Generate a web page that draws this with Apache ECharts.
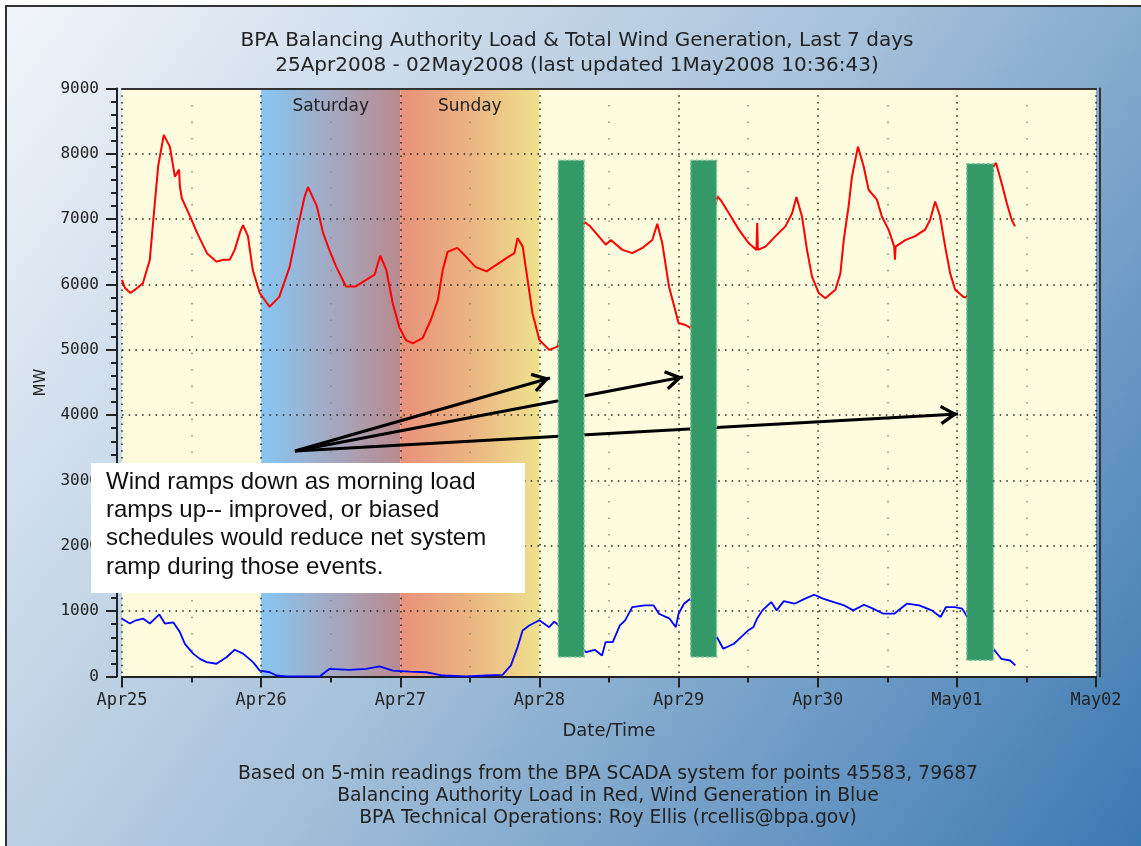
<!DOCTYPE html>
<html>
<head>
<meta charset="utf-8">
<script src="https://cdn.jsdelivr.net/npm/echarts@6/dist/echarts.min.js"></script>
<style>
  html, body { margin: 0; padding: 0; background: #fff; }
  #chart { width: 1141px; height: 846px; }
</style>
</head>
<body>
<div id="chart"></div>
<script>
// x = days since 25Apr2008 00:00, y = MW
const dayLabels = ['Apr25', 'Apr26', 'Apr27', 'Apr28', 'Apr29', 'Apr30', 'May01', 'May02'];

// balancing authority load (red)
const loadMW = [
  [0.00, 6070], [0.02, 5950], [0.06, 5870], [0.10, 5930], [0.15, 6020], [0.20, 6380],
  [0.225, 6990], [0.26, 7810], [0.30, 8290], [0.344, 8110], [0.38, 7650], [0.41, 7760],
  [0.416, 7500], [0.43, 7320], [0.49, 7040], [0.54, 6790], [0.61, 6480], [0.68, 6350],
  [0.73, 6380], [0.775, 6380], [0.81, 6530], [0.85, 6810], [0.87, 6910], [0.905, 6740],
  [0.94, 6220], [0.99, 5870], [1.06, 5660], [1.13, 5810], [1.205, 6270], [1.265, 6890],
  [1.313, 7350], [1.337, 7490], [1.40, 7200], [1.445, 6790], [1.49, 6530], [1.54, 6270],
  [1.61, 5970], [1.68, 5970], [1.755, 6070], [1.815, 6150], [1.856, 6440], [1.90, 6220],
  [1.946, 5710], [1.994, 5340], [2.04, 5150], [2.09, 5100], [2.16, 5180], [2.22, 5460],
  [2.27, 5760], [2.305, 6220], [2.34, 6500], [2.41, 6560], [2.47, 6430], [2.54, 6270],
  [2.62, 6200], [2.69, 6300], [2.76, 6400], [2.82, 6480], [2.843, 6710], [2.88, 6580],
  [2.915, 6070], [2.95, 5560], [3.00, 5150], [3.07, 5000], [3.13, 5050],
  [3.321, 6960], [3.36, 6900], [3.405, 6790], [3.477, 6610], [3.513, 6680], [3.596, 6530],
  [3.668, 6480], [3.74, 6560], [3.811, 6680], [3.847, 6930], [3.883, 6630], [3.931, 5970],
  [4.00, 5410], [4.05, 5380], [4.09, 5330],
  [4.278, 7350], [4.30, 7300], [4.362, 7090], [4.433, 6840], [4.505, 6630], [4.56, 6530],
  [4.565, 6940], [4.57, 6530], [4.625, 6580], [4.697, 6740], [4.768, 6890], [4.816, 7090],
  [4.847, 7340], [4.887, 7040], [4.923, 6530], [4.959, 6120], [5.007, 5870], [5.055, 5790],
  [5.127, 5920], [5.163, 6170], [5.187, 6680], [5.222, 7200], [5.246, 7650], [5.289, 8110],
  [5.33, 7810], [5.366, 7450], [5.425, 7300], [5.461, 7040], [5.509, 6840], [5.55, 6580],
  [5.555, 6380], [5.56, 6580], [5.629, 6680], [5.70, 6740], [5.772, 6840], [5.808, 6990],
  [5.844, 7270], [5.88, 7040], [5.916, 6580], [5.952, 6170], [5.988, 5920], [6.048, 5810],
  [6.07, 5800],
  [6.263, 7810], [6.282, 7860], [6.322, 7550], [6.358, 7250], [6.394, 6990], [6.418, 6890]
];

// total wind generation (blue)
const windMW = [
  [0.00, 885], [0.057, 810], [0.10, 860], [0.153, 885], [0.20, 810], [0.268, 950],
  [0.308, 810], [0.368, 830], [0.416, 680], [0.452, 500], [0.511, 350], [0.56, 270],
  [0.608, 220], [0.679, 195], [0.751, 295], [0.81, 410], [0.87, 350], [0.942, 220],
  [0.99, 90], [1.062, 65], [1.11, 15], [1.18, 0], [1.42, 0], [1.492, 118], [1.636, 100],
  [1.755, 118], [1.851, 155], [1.946, 90], [2.066, 75], [2.186, 65], [2.305, 15],
  [2.473, 0], [2.616, 15], [2.735, 25], [2.795, 170], [2.843, 450], [2.879, 705],
  [2.927, 780], [2.999, 860], [3.07, 755], [3.106, 840], [3.13, 800],
  [3.335, 373], [3.398, 409], [3.45, 322], [3.475, 527], [3.527, 527], [3.578, 782],
  [3.616, 859], [3.667, 1063], [3.757, 1088], [3.821, 1088], [3.859, 961], [3.936, 885],
  [3.98, 756], [4.00, 961], [4.039, 1114], [4.085, 1191],
  [4.282, 578], [4.321, 424], [4.398, 501], [4.449, 603], [4.50, 705], [4.538, 756],
  [4.564, 885], [4.602, 1012], [4.666, 1139], [4.705, 1012], [4.756, 1154], [4.833, 1114],
  [4.91, 1191], [4.974, 1252], [5.038, 1191], [5.115, 1139], [5.191, 1088], [5.255, 1012],
  [5.333, 1099], [5.397, 1038], [5.473, 961], [5.55, 961], [5.64, 1114], [5.73, 1088],
  [5.819, 1012], [5.883, 910], [5.922, 1063], [5.986, 1063], [6.038, 1038], [6.069, 935],
  [6.268, 409], [6.319, 271], [6.383, 245], [6.421, 169]
];

// weekend shading: [label, fromDay, toDay]
const weekendDays = [['Saturday', 1, 2], ['Sunday', 2, 3]];
// green "ramp event" bars: [fromDay, toDay, lowMW, highMW]
const rampEvents = [[3.135, 3.321, 300, 7900], [4.087, 4.273, 300, 7900], [6.071, 6.263, 250, 7850]];
// annotation arrows, one shared tail
const arrowFrom = [1.243, 3452];
const arrowTo = [[3.076, 4569], [4.032, 4584], [6.009, 4018]];

const titleText = 'BPA Balancing Authority Load & Total Wind Generation, Last 7 days\n25Apr2008 - 02May2008 (last updated 1May2008 10:36:43)';
const footerText = 'Based on 5-min readings from the BPA SCADA system for points 45583, 79687\nBalancing Authority Load in Red, Wind Generation in Blue\nBPA Technical Operations: Roy Ellis (rcellis@bpa.gov)';
const note = 'Wind ramps down as morning load\nramps up-- improved, or biased\nschedules would reduce net system\nramp during those events.';

const weekendColors = [
  ['#86c6f2', '#a4a9c2', '#b98a8e'],
  ['#e8917a', '#ebb482', '#efe18d']
];

const chart = echarts.init(document.getElementById('chart'));

const axisCol = '#222';
const mono = 'DejaVu Sans Mono';
const sans = 'DejaVu Sans';

const option = {
  animation: false,
  backgroundColor: {
    type: 'linear', x: 0, y: 0, x2: 1, y2: 1,
    colorStops: [
      { offset: 0, color: '#f3f6fb' },
      { offset: 0.5, color: '#a6c1da' },
      { offset: 1, color: '#3b79b3' }
    ]
  },
  grid: {
    left: 122, top: 88.5, width: 974, height: 588,
    show: true, backgroundColor: '#fefcde', borderWidth: 0,
    containLabel: false, outerBoundsMode: 'none'
  },
  xAxis: [
    {
      type: 'value', min: 0, max: 7, interval: 1, position: 'bottom', z: 1.5,
      name: 'Date/Time', nameLocation: 'middle', nameGap: 46,
      nameTextStyle: { fontFamily: sans, fontSize: 18, color: '#222' },
      axisLine: { show: true, onZero: false, lineStyle: { color: axisCol, width: 2 } },
      axisTick: { show: true, length: 11, lineStyle: { color: axisCol, width: 2 } },
      minorTick: { show: true, splitNumber: 2, length: 6, lineStyle: { color: axisCol, width: 2 } },
      axisLabel: {
        formatter: v => dayLabels[Math.round(v)],
        fontFamily: mono, fontSize: 17, color: '#222', margin: 16
      },
      splitLine: { show: true, lineStyle: { color: '#222', width: 1.5, type: [1.5, 5.2] } },
      minorSplitLine: { show: true, lineStyle: { color: '#8a8a8a', width: 1.5, type: [1.5, 15] } }
    },
    {
      type: 'value', min: 0, max: 7, position: 'top', z: 1.5,
      axisLine: { show: true, onZero: false, lineStyle: { color: '#333', width: 2 } },
      axisTick: { show: false }, axisLabel: { show: false }, splitLine: { show: false }
    }
  ],
  yAxis: [
    {
      type: 'value', min: 0, max: 9000, interval: 1000, position: 'left', offset: 5, z: 1.5,
      name: 'MW', nameLocation: 'middle', nameGap: 68,
      nameTextStyle: { fontFamily: sans, fontSize: 15, color: '#222' },
      axisLine: { show: true, onZero: false, lineStyle: { color: axisCol, width: 2 } },
      axisTick: { show: true, length: 11, lineStyle: { color: axisCol, width: 2 } },
      minorTick: { show: true, splitNumber: 5, length: 6, lineStyle: { color: axisCol, width: 2 } },
      axisLabel: { formatter: v => String(v), fontFamily: mono, fontSize: 16, color: '#222', margin: 18 },
      splitLine: { show: true, lineStyle: { color: '#222', width: 1.5, type: [1.5, 5.2] } }
    },
    {
      type: 'value', min: 0, max: 9000, position: 'right', offset: 4, z: 1.5,
      axisLine: { show: true, onZero: false, lineStyle: { color: '#333', width: 2 } },
      axisTick: { show: false }, axisLabel: { show: false }, splitLine: { show: false }
    }
  ],
  series: [
    {
      // weekend shading bands
      type: 'line', data: [], silent: true,
      markArea: {
        silent: true,
        label: { show: true, position: 'insideTop', distance: 10, color: '#222', fontFamily: sans, fontSize: 17 },
        data: weekendDays.map((d, i) => [
          {
            name: d[0], xAxis: d[1],
            itemStyle: {
              color: {
                type: 'linear', x: 0, y: 0, x2: 1, y2: 0,
                colorStops: weekendColors[i].map((c, k) => ({ offset: k / 2, color: c }))
              }
            }
          },
          { xAxis: d[2] }
        ])
      }
    },
    {
      name: 'Load', type: 'line', data: loadMW, z: 3,
      symbol: 'none', silent: true,
      lineStyle: { color: '#ff0000', width: 2 }
    },
    {
      name: 'Wind', type: 'line', data: windMW, z: 3,
      symbol: 'none', silent: true,
      lineStyle: { color: '#0000ff', width: 1.8 }
    },
    {
      // annotation arrows
      type: 'line', data: [], silent: true,
      markLine: {
        silent: true,
        symbol: ['none', 'path://M8,0L8.01,0L8,0.01Z M8,14L16,26.5L13.8,27.8L8,19L2.2,27.8L0,26.5Z'],
        symbolSize: [20, 36],
        label: { show: false },
        lineStyle: { color: '#000', width: 3, type: 'solid' },
        emphasis: { disabled: true },
        data: arrowTo.map(t => [{ coord: arrowFrom }, { coord: t }])
      }
    },
    {
      // green ramp-event bars
      type: 'custom', z: 10, silent: true,
      data: rampEvents,
      encode: { x: [0, 1], y: [2, 3] },
      renderItem: (params, api) => {
        const p0 = api.coord([api.value(0), api.value(3)]);
        const p1 = api.coord([api.value(1), api.value(2)]);
        return {
          type: 'rect',
          shape: { x: p0[0], y: p0[1], width: p1[0] - p0[0], height: p1[1] - p0[1] },
          style: { fill: '#339966', stroke: '#86c2a2', lineWidth: 1.5, lineDash: [3, 2] }
        };
      }
    }
  ],
  graphic: [
    { type: 'rect', silent: true, z: 100, shape: { x: 0, y: 0, width: 1141, height: 5 }, style: { fill: '#fff' } },
    { type: 'rect', silent: true, z: 100, shape: { x: 0, y: 0, width: 5, height: 846 }, style: { fill: '#fff' } },
    { type: 'polyline', silent: true, z: 100, shape: { points: [[6, 846], [6, 6], [1141, 6]] }, style: { stroke: '#333', lineWidth: 2, fill: null } },
    {
      type: 'text', silent: true, z: 100, x: 577, y: 28,
      style: { text: titleText, fill: '#222', font: '20px "DejaVu Sans"', align: 'center', verticalAlign: 'top', lineHeight: 25 }
    },
    {
      type: 'text', silent: true, z: 100, x: 608, y: 763,
      style: { text: footerText, fill: '#222', font: '18.8px "DejaVu Sans"', align: 'center', verticalAlign: 'top', lineHeight: 22 }
    },
    {
      type: 'group', silent: true, z: 100,
      children: [
        { type: 'rect', z: 100, shape: { x: 91, y: 463, width: 434, height: 130 }, style: { fill: '#fff' } },
        {
          type: 'text', z: 101, x: 106, y: 468,
          style: { text: note, fill: '#111', font: '24px "Liberation Sans", Arial, sans-serif', lineHeight: 28.3 }
        }
      ]
    }
  ]
};

chart.setOption(option);
</script>
</body>
</html>
